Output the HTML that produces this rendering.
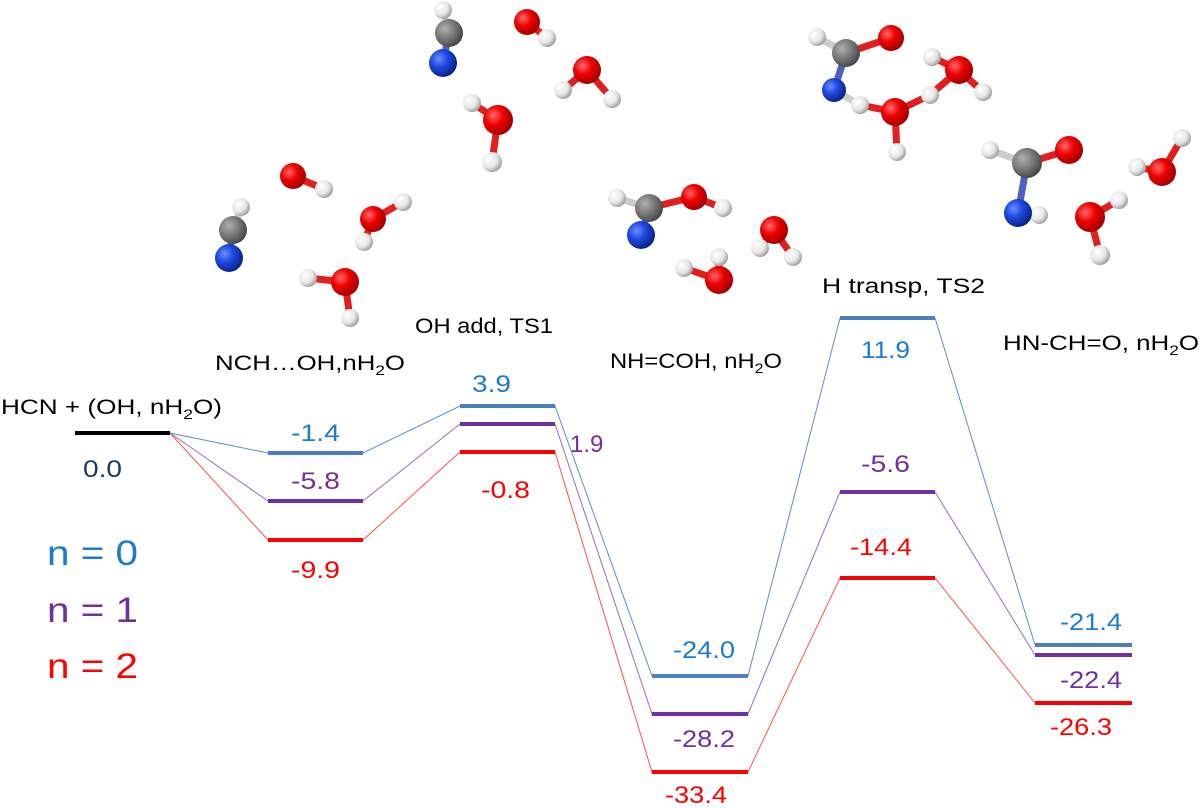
<!DOCTYPE html>
<html><head><meta charset="utf-8"><style>
html,body{margin:0;padding:0;background:#fff;}
svg{display:block;font-family:"Liberation Sans","DejaVu Sans",sans-serif;}
</style></head><body>
<svg width="1200" height="808" viewBox="0 0 1200 808" xmlns="http://www.w3.org/2000/svg">
<defs>
<radialGradient id="gO" cx="0.35" cy="0.35" r="0.7"><stop offset="0" stop-color="#ff6a6a"/><stop offset="0.45" stop-color="#ee0000"/><stop offset="1" stop-color="#a00000"/></radialGradient>
<radialGradient id="gH" cx="0.35" cy="0.35" r="0.7"><stop offset="0" stop-color="#ffffff"/><stop offset="0.6" stop-color="#e6e6e6"/><stop offset="1" stop-color="#9a9a9a"/></radialGradient>
<radialGradient id="gN" cx="0.35" cy="0.35" r="0.7"><stop offset="0" stop-color="#6a8cff"/><stop offset="0.45" stop-color="#1d47e0"/><stop offset="1" stop-color="#0a2080"/></radialGradient>
<radialGradient id="gC" cx="0.35" cy="0.35" r="0.7"><stop offset="0" stop-color="#b0b0b0"/><stop offset="0.5" stop-color="#7a7a7a"/><stop offset="1" stop-color="#444"/></radialGradient>
</defs>

<g stroke-width="7" stroke-linecap="round">
<line x1="443" y1="10" x2="449" y2="33" stroke="#ccc"/><line x1="449" y1="33" x2="443" y2="63" stroke="#5060c0"/>
<line x1="527" y1="22" x2="547" y2="38" stroke="#e02020"/>
<line x1="587" y1="70" x2="563" y2="90" stroke="#e02020"/><line x1="587" y1="70" x2="612" y2="99" stroke="#e02020"/>
<line x1="472" y1="103" x2="498" y2="120" stroke="#e02020"/><line x1="498" y1="120" x2="492" y2="162" stroke="#e02020"/>
<line x1="293" y1="176" x2="324" y2="189" stroke="#e02020"/>
<line x1="241" y1="207" x2="233" y2="230" stroke="#ccc"/><line x1="233" y1="230" x2="229" y2="258" stroke="#5060c0"/>
<line x1="373" y1="219" x2="403" y2="202" stroke="#e02020"/><line x1="373" y1="219" x2="364" y2="242" stroke="#e02020"/>
<line x1="308" y1="278" x2="345" y2="282" stroke="#e02020"/><line x1="345" y1="282" x2="350" y2="318" stroke="#e02020"/>
<line x1="817" y1="37" x2="846" y2="53" stroke="#ccc"/><line x1="846" y1="53" x2="891" y2="38" stroke="#e02020"/><line x1="846" y1="53" x2="834" y2="90" stroke="#5060c0"/>
<line x1="834" y1="90" x2="860" y2="105" stroke="#ccc"/><line x1="860" y1="105" x2="895" y2="112" stroke="#e02020"/><line x1="895" y1="112" x2="897" y2="152" stroke="#e02020"/>
<line x1="895" y1="112" x2="930" y2="95" stroke="#e02020"/><line x1="930" y1="95" x2="959" y2="70" stroke="#e02020"/><line x1="959" y1="70" x2="932" y2="57" stroke="#e02020"/><line x1="959" y1="70" x2="983" y2="92" stroke="#e02020"/>
<line x1="990" y1="150" x2="1027" y2="163" stroke="#ccc"/><line x1="1027" y1="163" x2="1069" y2="150" stroke="#e02020"/><line x1="1027" y1="163" x2="1018" y2="213" stroke="#5060c0"/><line x1="1018" y1="213" x2="1039" y2="215" stroke="#ccc"/>
<line x1="1162" y1="172" x2="1182" y2="138" stroke="#e02020"/><line x1="1162" y1="172" x2="1137" y2="167" stroke="#e02020"/>
<line x1="1090" y1="217" x2="1119" y2="200" stroke="#e02020"/><line x1="1090" y1="217" x2="1100" y2="255" stroke="#e02020"/>
<line x1="617" y1="198" x2="649" y2="208" stroke="#ccc"/><line x1="649" y1="208" x2="694" y2="197" stroke="#e02020"/><line x1="694" y1="197" x2="723" y2="208" stroke="#e02020"/><line x1="649" y1="208" x2="641" y2="235" stroke="#5060c0"/>
<line x1="774" y1="230" x2="760" y2="248" stroke="#e02020"/><line x1="774" y1="230" x2="793" y2="257" stroke="#e02020"/>
<line x1="684" y1="268" x2="719" y2="280" stroke="#e02020"/><line x1="719" y1="280" x2="719" y2="257" stroke="#e02020"/>
</g>
<g>
<circle cx="443" cy="10" r="9" fill="url(#gH)"/><circle cx="449" cy="33" r="14" fill="url(#gC)"/><circle cx="443" cy="63" r="14" fill="url(#gN)"/>
<circle cx="547" cy="38" r="9" fill="url(#gH)"/><circle cx="527" cy="22" r="13" fill="url(#gO)"/>
<circle cx="563" cy="90" r="9" fill="url(#gH)"/><circle cx="612" cy="99" r="9" fill="url(#gH)"/><circle cx="587" cy="70" r="14" fill="url(#gO)"/>
<circle cx="472" cy="103" r="9" fill="url(#gH)"/><circle cx="492" cy="162" r="10" fill="url(#gH)"/><circle cx="498" cy="120" r="15" fill="url(#gO)"/>
<circle cx="324" cy="189" r="9" fill="url(#gH)"/><circle cx="293" cy="176" r="13" fill="url(#gO)"/>
<circle cx="241" cy="207" r="9" fill="url(#gH)"/><circle cx="233" cy="230" r="14" fill="url(#gC)"/><circle cx="229" cy="258" r="14" fill="url(#gN)"/>
<circle cx="403" cy="202" r="9" fill="url(#gH)"/><circle cx="364" cy="242" r="9" fill="url(#gH)"/><circle cx="373" cy="219" r="13" fill="url(#gO)"/>
<circle cx="308" cy="278" r="9" fill="url(#gH)"/><circle cx="350" cy="318" r="9" fill="url(#gH)"/><circle cx="345" cy="282" r="14" fill="url(#gO)"/>
<circle cx="817" cy="37" r="9" fill="url(#gH)"/><circle cx="846" cy="53" r="14" fill="url(#gC)"/><circle cx="891" cy="38" r="13" fill="url(#gO)"/><circle cx="834" cy="90" r="12" fill="url(#gN)"/>
<circle cx="860" cy="105" r="9" fill="url(#gH)"/><circle cx="897" cy="152" r="9" fill="url(#gH)"/><circle cx="930" cy="95" r="9" fill="url(#gH)"/><circle cx="895" cy="112" r="14" fill="url(#gO)"/>
<circle cx="932" cy="57" r="9" fill="url(#gH)"/><circle cx="983" cy="92" r="9" fill="url(#gH)"/><circle cx="959" cy="70" r="14" fill="url(#gO)"/>
<circle cx="990" cy="150" r="9" fill="url(#gH)"/><circle cx="1027" cy="163" r="15" fill="url(#gC)"/><circle cx="1069" cy="150" r="14" fill="url(#gO)"/><circle cx="1039" cy="215" r="9" fill="url(#gH)"/><circle cx="1018" cy="213" r="14" fill="url(#gN)"/>
<circle cx="1182" cy="138" r="9" fill="url(#gH)"/><circle cx="1137" cy="167" r="9" fill="url(#gH)"/><circle cx="1162" cy="172" r="14" fill="url(#gO)"/>
<circle cx="1119" cy="200" r="9" fill="url(#gH)"/><circle cx="1100" cy="255" r="10" fill="url(#gH)"/><circle cx="1090" cy="217" r="15" fill="url(#gO)"/>
<circle cx="617" cy="198" r="9" fill="url(#gH)"/><circle cx="723" cy="208" r="9" fill="url(#gH)"/><circle cx="649" cy="208" r="14" fill="url(#gC)"/><circle cx="694" cy="197" r="13" fill="url(#gO)"/><circle cx="641" cy="235" r="14" fill="url(#gN)"/>
<circle cx="760" cy="248" r="9" fill="url(#gH)"/><circle cx="793" cy="257" r="9" fill="url(#gH)"/><circle cx="774" cy="230" r="14" fill="url(#gO)"/>
<circle cx="684" cy="268" r="9" fill="url(#gH)"/><circle cx="719" cy="257" r="9" fill="url(#gH)"/><circle cx="719" cy="280" r="14" fill="url(#gO)"/>
</g>

<g fill="none" stroke-width="1">
<polyline stroke="#5b8fd0" points="170,433 268,453 363,453 460,406 555,406 652,676 748,676 840,318 935,318 1035,645"/>
<polyline stroke="#9a6cc0" points="170,433 268,501 363,501 460,424 555,424 652,714 748,714 840,492 935,492 1035,655"/>
<polyline stroke="#ff5050" points="170,433 268,540 363,540 460,452 555,452 652,772 748,772 840,578 935,578 1035,703"/>
</g>
<g stroke-width="4">
<line x1="75" y1="433" x2="170" y2="433" stroke="#000"/>
<line x1="268" y1="453" x2="363" y2="453" stroke="#4a7fc0"/>
<line x1="268" y1="501" x2="363" y2="501" stroke="#7030a0"/>
<line x1="268" y1="540" x2="363" y2="540" stroke="#ff0000"/>
<line x1="460" y1="406" x2="555" y2="406" stroke="#4a7fc0"/>
<line x1="460" y1="424" x2="555" y2="424" stroke="#7030a0"/>
<line x1="460" y1="452" x2="555" y2="452" stroke="#ff0000"/>
<line x1="652" y1="676" x2="748" y2="676" stroke="#4a7fc0"/>
<line x1="652" y1="714" x2="748" y2="714" stroke="#7030a0"/>
<line x1="652" y1="772" x2="748" y2="772" stroke="#ff0000"/>
<line x1="840" y1="318" x2="935" y2="318" stroke="#4a7fc0"/>
<line x1="840" y1="492" x2="935" y2="492" stroke="#7030a0"/>
<line x1="840" y1="578" x2="935" y2="578" stroke="#ff0000"/>
<line x1="1035" y1="645" x2="1132" y2="645" stroke="#4a7fc0"/>
<line x1="1035" y1="655" x2="1132" y2="655" stroke="#7030a0"/>
<line x1="1035" y1="703" x2="1132" y2="703" stroke="#ff0000"/>
</g>

<g font-size="21" fill="#000">
<text x="1" y="414" textLength="221" lengthAdjust="spacingAndGlyphs">HCN + (OH, nH<tspan font-size="14" dy="5">2</tspan><tspan dy="-5">O)</tspan></text>
<text x="215" y="370" textLength="190" lengthAdjust="spacingAndGlyphs">NCH…OH,nH<tspan font-size="14" dy="5">2</tspan><tspan dy="-5">O</tspan></text>
<text x="415" y="333" textLength="138" lengthAdjust="spacingAndGlyphs">OH add, TS1</text>
<text x="610" y="368" textLength="172" lengthAdjust="spacingAndGlyphs">NH=COH, nH<tspan font-size="14" dy="5">2</tspan><tspan dy="-5">O</tspan></text>
<text x="822" y="293" textLength="163" lengthAdjust="spacingAndGlyphs">H transp, TS2</text>
<text x="1003" y="350" textLength="196" lengthAdjust="spacingAndGlyphs">HN-CH=O, nH<tspan font-size="14" dy="5">2</tspan><tspan dy="-5">O</tspan></text>
</g>
<g font-size="24">
<text x="83" y="477" fill="#1f3864" textLength="39" lengthAdjust="spacingAndGlyphs">0.0</text>
<text x="291" y="441" fill="#1b7bd0" textLength="49" lengthAdjust="spacingAndGlyphs">-1.4</text>
<text x="291" y="489" fill="#7030a0" textLength="49" lengthAdjust="spacingAndGlyphs">-5.8</text>
<text x="291" y="578" fill="#ff0000" textLength="49" lengthAdjust="spacingAndGlyphs">-9.9</text>
<text x="472" y="392" fill="#1b7bd0" textLength="39" lengthAdjust="spacingAndGlyphs">3.9</text>
<text x="570" y="452" fill="#7030a0">1.9</text>
<text x="481" y="498" fill="#ff0000" textLength="49" lengthAdjust="spacingAndGlyphs">-0.8</text>
<text x="673" y="658" fill="#1b7bd0" textLength="62" lengthAdjust="spacingAndGlyphs">-24.0</text>
<text x="673" y="747" fill="#7030a0" textLength="62" lengthAdjust="spacingAndGlyphs">-28.2</text>
<text x="665" y="803" fill="#ff0000" textLength="62" lengthAdjust="spacingAndGlyphs">-33.4</text>
<text x="861" y="358" fill="#1b7bd0" textLength="49" lengthAdjust="spacingAndGlyphs">11.9</text>
<text x="861" y="472" fill="#7030a0" textLength="49" lengthAdjust="spacingAndGlyphs">-5.6</text>
<text x="850" y="555" fill="#ff0000" textLength="62" lengthAdjust="spacingAndGlyphs">-14.4</text>
<text x="1060" y="630" fill="#1b7bd0" textLength="62" lengthAdjust="spacingAndGlyphs">-21.4</text>
<text x="1060" y="688" fill="#7030a0" textLength="62" lengthAdjust="spacingAndGlyphs">-22.4</text>
<text x="1050" y="735" fill="#ff0000" textLength="62" lengthAdjust="spacingAndGlyphs">-26.3</text>
</g>
<g font-size="35">
<text x="47" y="565" fill="#1b7bd0" textLength="91" lengthAdjust="spacingAndGlyphs">n = 0</text>
<text x="47" y="622" fill="#7030a0" textLength="91" lengthAdjust="spacingAndGlyphs">n = 1</text>
<text x="47" y="678" fill="#ff0000" textLength="91" lengthAdjust="spacingAndGlyphs">n = 2</text>
</g>
</svg>
</body></html>
